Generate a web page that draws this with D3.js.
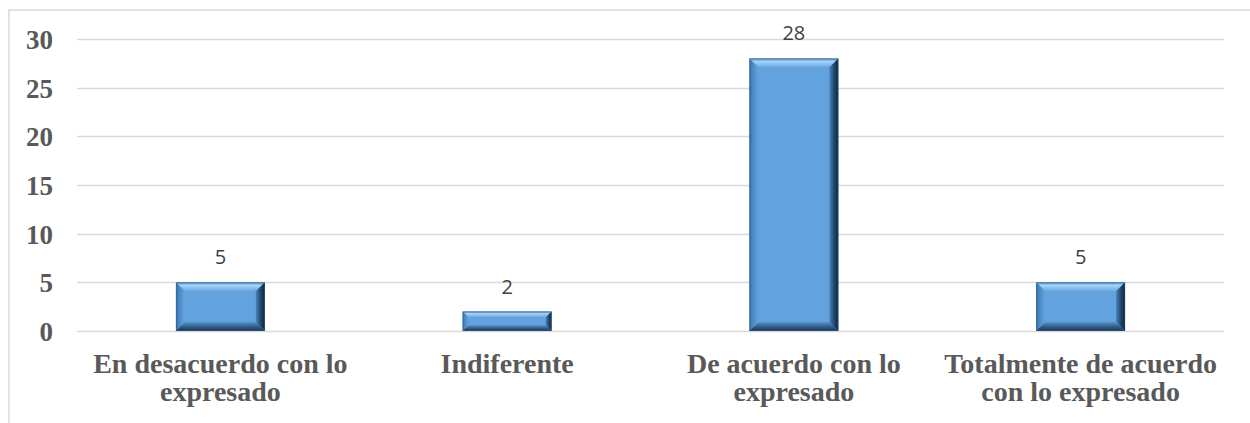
<!DOCTYPE html>
<html>
<head>
<meta charset="utf-8">
<script src="https://cdn.jsdelivr.net/npm/d3@7"></script>
<style>
  html, body { margin: 0; padding: 0; background: #ffffff; }
  svg { display: block; }
</style>
</head>
<body>
<svg id="chart" width="1250" height="423"></svg>
<script>
// Category names (wrapped into lines) and response counts
const categories = [
  "En desacuerdo con lo expresado",
  "Indiferente",
  "De acuerdo con lo expresado",
  "Totalmente de acuerdo con lo expresado"
];
const categoryLines = [
  ["En desacuerdo con lo", "expresado"],
  ["Indiferente"],
  ["De acuerdo con lo", "expresado"],
  ["Totalmente de acuerdo", "con lo expresado"]
];
const values = [5, 2, 28, 5];
const yTicks = [0, 5, 10, 15, 20, 25, 30];

const svg = d3.select("#chart");
const margin = { left: 77, right: 26, top: 39, bottom: 92 };
const W = 1250, H = 423;

const x = d3.scaleBand()
  .domain(categories)
  .range([margin.left, W - margin.right])
  .paddingInner(0.69)
  .paddingOuter(0.345);

const y = d3.scaleLinear()
  .domain([0, 30])
  .range([H - margin.bottom, margin.top]);

// Chart-area frame (top and left edges)
svg.append("path")
  .attr("d", `M9,${H} L9,10 L${W},10`)
  .attr("fill", "none")
  .attr("stroke", "#d9d9d9")
  .attr("stroke-width", 1.5);

// Horizontal gridlines
svg.append("g")
  .selectAll("line")
  .data(yTicks)
  .join("line")
  .attr("x1", margin.left)
  .attr("x2", W - margin.right)
  .attr("y1", d => Math.round(y(d)) + 0.5)
  .attr("y2", d => Math.round(y(d)) + 0.5)
  .attr("stroke", "#d9d9d9")
  .attr("stroke-width", 1.5);

// Y axis tick labels
const yAxis = d3.axisLeft(y).tickValues(yTicks).tickSize(0).tickPadding(0);
const gy = svg.append("g")
  .attr("transform", `translate(53,0)`)
  .call(yAxis);
gy.select(".domain").remove();
gy.selectAll("text")
  .attr("font-family", "'Liberation Serif', 'Times New Roman', serif")
  .attr("font-weight", "bold")
  .attr("font-size", 27)
  .attr("fill", "#595959")
  .attr("dy", "0.35em");

// Gradients for the bevelled bar edges
const defs = svg.append("defs");
function grad(id, x1, y1, x2, y2, stops) {
  const g = defs.append("linearGradient")
    .attr("id", id)
    .attr("x1", x1).attr("y1", y1).attr("x2", x2).attr("y2", y2);
  stops.forEach(s => g.append("stop").attr("offset", s[0]).attr("stop-color", s[1]));
}
grad("bevTop", 0, 0, 0, 1, [[0, "#4f8cc8"], [0.35, "#a9d3f7"], [0.55, "#92c3ef"], [1, "#68a8e2"]]);
grad("bevLeft", 0, 0, 1, 0, [[0, "#3670a8"], [0.45, "#4f8dca"], [1, "#63a3df"]]);
grad("bevRight", 0, 0, 1, 0, [[0, "#4a85bf"], [0.45, "#27507a"], [1, "#0f2134"]]);
grad("bevBottom", 0, 0, 0, 1, [[0, "#5592cc"], [0.5, "#355f8b"], [1, "#1a3350"]]);

const bars = svg.append("g")
  .selectAll("g")
  .data(categories.map((c, i) => ({ c, v: values[i] })))
  .join("g");

bars.each(function (d) {
  const g = d3.select(this);
  const x0 = x(d.c), w = x.bandwidth();
  const y0 = y(d.v), y1 = y(0), h = y1 - y0;
  const b = Math.min(9, h * 0.3);
  const x1 = x0 + w;
  g.append("rect")
    .attr("x", x0).attr("y", y0).attr("width", w).attr("height", h)
    .attr("fill", "#61a2df");
  g.append("polygon")
    .attr("points", [[x0, y0], [x1, y0], [x1 - b, y0 + b], [x0 + b, y0 + b]].join(" "))
    .attr("fill", "url(#bevTop)");
  g.append("polygon")
    .attr("points", [[x0, y0], [x0 + b, y0 + b], [x0 + b, y1 - b], [x0, y1]].join(" "))
    .attr("fill", "url(#bevLeft)");
  g.append("polygon")
    .attr("points", [[x1, y0], [x1, y1], [x1 - b, y1 - b], [x1 - b, y0 + b]].join(" "))
    .attr("fill", "url(#bevRight)");
  g.append("polygon")
    .attr("points", [[x0, y1], [x1, y1], [x1 - b, y1 - b], [x0 + b, y1 - b]].join(" "))
    .attr("fill", "url(#bevBottom)");
  g.append("rect")
    .attr("x", x0 + 0.5).attr("y", y0 + 0.5).attr("width", w - 1).attr("height", h - 1)
    .attr("fill", "none")
    .attr("stroke", "#2f5f8f")
    .attr("stroke-opacity", 0.5)
    .attr("stroke-width", 1);
});

// Value labels above bars
svg.append("g")
  .selectAll("text")
  .data(categories.map((c, i) => ({ c, v: values[i] })))
  .join("text")
  .attr("x", d => x(d.c) + x.bandwidth() / 2)
  .attr("y", d => y(d.v) - 18)
  .attr("text-anchor", "middle")
  .attr("font-family", "'Open Sans', 'Liberation Sans', sans-serif")
  .attr("font-size", 20)
  .attr("fill", "#404040")
  .text(d => d.v);

// Category labels below the axis, one text element per line
const labelRows = [];
categories.forEach((c, i) => {
  categoryLines[i].forEach((ln, j) => labelRows.push({ c, ln, j }));
});
svg.append("g")
  .selectAll("text")
  .data(labelRows)
  .join("text")
  .attr("x", d => x(d.c) + x.bandwidth() / 2)
  .attr("y", d => 373 + d.j * 28)
  .attr("text-anchor", "middle")
  .attr("font-family", "'Liberation Serif', 'Times New Roman', serif")
  .attr("font-weight", "bold")
  .attr("font-size", 28)
  .attr("fill", "#595959")
  .text(d => d.ln);
</script>
</body>
</html>
